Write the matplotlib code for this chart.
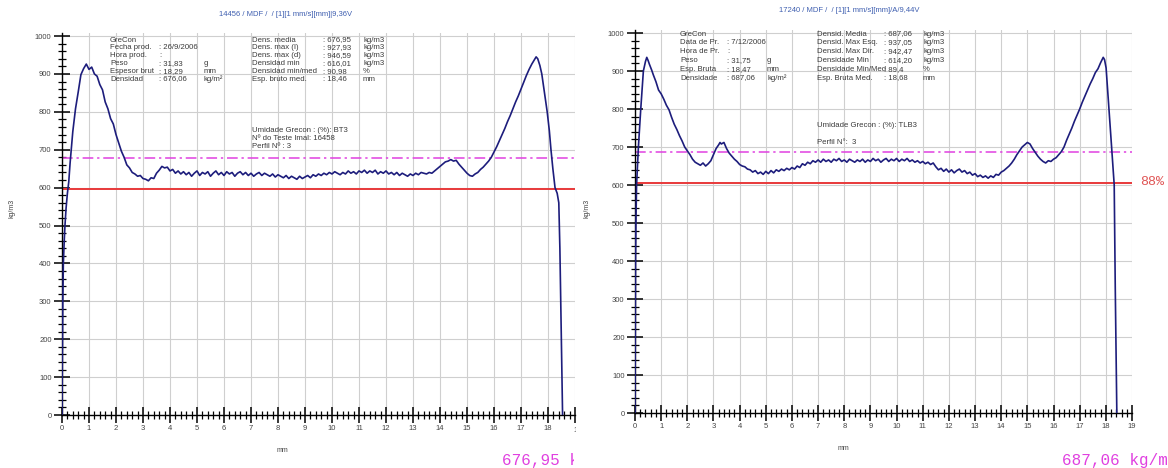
import matplotlib
matplotlib.use("Agg")
import matplotlib.pyplot as plt
from matplotlib.ticker import MultipleLocator, FixedLocator
from matplotlib.transforms import Bbox

plt.rcParams['font.family'] = ['Liberation Sans', 'DejaVu Sans']

# ---------------- data ----------------
left_x = [0.0, 0.01, 0.03, 0.05, 0.08, 0.11, 0.15, 0.2, 0.25, 0.3,
          0.4, 0.5, 0.6, 0.7, 0.8, 0.9, 1.0, 1.1, 1.2, 1.3, 1.4, 1.5, 1.6, 1.7, 1.8, 1.9,
          2.0, 2.1, 2.2, 2.3, 2.4, 2.5, 2.6, 2.7, 2.8, 2.9, 3.0, 3.1, 3.2, 3.3, 3.4, 3.5,
          3.6, 3.7, 3.8, 3.9, 4.0, 4.1, 4.2, 4.3, 4.4, 4.5, 4.6, 4.7, 4.8, 4.9, 5.0, 5.1,
          5.2, 5.3, 5.4, 5.5, 5.6, 5.7, 5.8, 5.9, 6.0, 6.1, 6.2, 6.3, 6.4, 6.5, 6.6, 6.7,
          6.8, 6.9, 7.0, 7.1, 7.2, 7.3, 7.4, 7.5, 7.6, 7.7, 7.8, 7.9, 8.0, 8.1, 8.2, 8.3,
          8.4, 8.5, 8.6, 8.7, 8.8, 8.9, 9.0, 9.1, 9.2, 9.3, 9.4, 9.5, 9.6, 9.7, 9.8, 9.9,
          10.0, 10.1, 10.2, 10.3, 10.4, 10.5, 10.6, 10.7, 10.8, 10.9, 11.0, 11.1, 11.2,
          11.3, 11.4, 11.5, 11.6, 11.7, 11.8, 11.9, 12.0, 12.1, 12.2, 12.3, 12.4, 12.5,
          12.6, 12.7, 12.8, 12.9, 13.0, 13.1, 13.2, 13.3, 13.4, 13.5, 13.6, 13.7, 13.8,
          13.9, 14.0, 14.1, 14.2, 14.3, 14.4, 14.5, 14.6, 14.7, 14.8, 14.9, 15.0, 15.1,
          15.2, 15.3, 15.4, 15.5, 15.6, 15.7, 15.8, 15.9, 16.0, 16.1, 16.2, 16.3, 16.4,
          16.5, 16.6, 16.7, 16.8, 16.9, 17.0, 17.1, 17.2, 17.3, 17.4, 17.5, 17.56, 17.62,
          17.7, 17.77, 17.87, 17.97, 18.05, 18.11, 18.18, 18.26, 18.34, 18.4, 18.44, 18.49, 18.54]
left_y = [0, 120, 300, 400, 455, 500, 545, 585, 615, 665,
          748, 808, 852, 898, 914, 926, 912, 918, 900, 894, 872, 858, 826, 808, 782, 768,
          740, 718, 696, 680, 660, 652, 640, 636, 630, 632, 624, 622, 618, 626, 624, 638,
          646, 656, 652, 654, 644, 648, 638, 644, 636, 642, 634, 640, 630, 638, 644, 632,
          640, 636, 642, 630, 638, 644, 634, 640, 632, 642, 636, 640, 630, 638, 642, 634,
          640, 632, 638, 630, 636, 640, 632, 638, 634, 630, 636, 628, 634, 630, 626, 632,
          624, 630, 626, 622, 630, 624, 628, 632, 626, 634, 630, 636, 632, 638, 634, 640,
          636, 642, 638, 634, 640, 636, 644, 638, 642, 636, 644, 640, 646,
          638, 644, 640, 646, 636, 642, 638, 644, 636, 640, 634, 640, 632,
          638, 634, 630, 636, 632, 638, 634, 640, 638, 636, 640, 638, 644,
          650, 656, 662, 668, 670, 674, 670, 672, 662, 654, 646, 638, 632,
          630, 636, 640, 648, 654, 662, 670, 680, 694, 708, 724, 740, 756,
          774, 790, 808, 826, 842, 860, 878, 896, 912, 926, 938, 945, 940,
          922, 900, 850, 800, 750, 700, 650, 600, 585, 560, 440, 220, 0]

right_x = [0.0, 0.01, 0.02, 0.04, 0.06, 0.13, 0.22, 0.32, 0.4, 0.45, 0.5, 0.55, 0.64, 0.7,
           0.8, 0.9, 1.0, 1.1, 1.2, 1.3, 1.4, 1.5, 1.6, 1.7, 1.8, 1.9, 2.0, 2.1, 2.2, 2.3,
           2.4, 2.5, 2.6, 2.7, 2.8, 2.9, 3.0, 3.1, 3.2, 3.25, 3.3, 3.4, 3.5, 3.6, 3.7, 3.8,
           3.9, 4.0, 4.1, 4.2, 4.3, 4.4, 4.5, 4.6, 4.7, 4.8, 4.9, 5.0, 5.1, 5.2, 5.3, 5.4,
           5.5, 5.6, 5.7, 5.8, 5.9, 6.0, 6.1, 6.2, 6.3, 6.4, 6.5, 6.6, 6.7, 6.8, 6.9, 7.0,
           7.1, 7.2, 7.3, 7.4, 7.5, 7.6, 7.7, 7.8, 7.9, 8.0, 8.1, 8.2, 8.3, 8.4, 8.5, 8.6,
           8.7, 8.8, 8.9, 9.0, 9.1, 9.2, 9.3, 9.4, 9.5, 9.6, 9.7, 9.8, 9.9, 10.0, 10.1,
           10.2, 10.3, 10.4, 10.5, 10.6, 10.7, 10.8, 10.9, 11.0, 11.1, 11.2, 11.3, 11.4,
           11.5, 11.6, 11.7, 11.8, 11.9, 12.0, 12.1, 12.2, 12.3, 12.4, 12.5, 12.6, 12.7,
           12.8, 12.9, 13.0, 13.1, 13.2, 13.3, 13.4, 13.5, 13.6, 13.7, 13.8, 13.9, 14.0,
           14.1, 14.2, 14.3, 14.4, 14.5, 14.6, 14.7, 14.8, 14.9, 15.0, 15.1, 15.2, 15.3,
           15.4, 15.5, 15.6, 15.7, 15.8, 15.9, 16.0, 16.1, 16.2, 16.3, 16.4, 16.5, 16.6,
           16.7, 16.8, 16.9, 17.0, 17.1, 17.2, 17.3, 17.4, 17.5, 17.6, 17.7, 17.8, 17.9,
           17.95, 18.01, 18.1, 18.22, 18.32, 18.36, 18.42]
right_y = [0, 200, 400, 520, 600, 700, 800, 900, 925, 936, 928, 918, 902, 890,
           872, 850, 840, 826, 810, 798, 778, 760, 746, 730, 716, 700, 690, 680, 668, 660,
           656, 652, 658, 650, 656, 664, 680, 696, 706, 712, 708, 712, 696, 684, 676, 668,
           662, 654, 650, 648, 642, 640, 634, 638, 630, 634, 628, 636, 630, 638, 632, 640,
           636, 642, 638, 644, 640, 646, 642, 650, 646, 656, 652, 660, 656, 664, 660, 666,
           660, 668, 662, 666, 660, 668, 664, 670, 662, 666, 660, 668, 664, 660, 666, 662,
           668, 660, 666, 662, 670, 664, 668, 660, 666, 670, 662, 668, 664, 670, 662,
           668, 664, 670, 662, 666, 660, 664, 658, 662, 656, 660, 654, 658,
           648, 640, 644, 636, 642, 634, 640, 632, 638, 642, 634, 638, 630,
           634, 626, 630, 622, 626, 620, 624, 618, 624, 620, 628, 626, 634,
           638, 644, 650, 658, 668, 680, 690, 700, 706, 712, 708, 696, 686,
           676, 668, 662, 658, 664, 662, 668, 672, 680, 688, 700, 718, 734,
           750, 768, 784, 800, 818, 834, 850, 866, 880, 896, 906, 922, 936,
           930, 908, 820, 700, 600, 330, 0]

left_mean = 676.95
right_mean = 687.06
limit_ratio = 0.88

left_title = "14456 / MDF /  / [1][1 mm/s][mm]|9,36V"
right_title = "17240 / MDF /  / [1][1 mm/s][mm]/A/9,44V"

left_col1_labels = ["GreCon", "Fecha prod.", "Hora prod.", "Peso", "Espesor brut", "Densidad"]
left_col1_values = ["", ": 26/9/2006", ":", ": 31,83", ": 18,29", ": 676,06"]
left_col1_units = ["", "", "", "g", "mm", "kg/m²"]
left_col2_labels = ["Dens. media", "Dens. max (I)", "Dens. max (d)", "Densidad min",
                    "Densidad min/med", "Esp. bruto med."]
left_col2_values = [": 676,95", ": 927,93", ": 946,59", ": 616,01", ": 90,98", ": 18,46"]
left_col2_units = ["kg/m3", "kg/m3", "kg/m3", "kg/m3", "%", "mm"]
left_extra = ["Umidade Grecon : (%): BT3", "Nº do Teste Imal: 16458", "Perfil Nº : 3"]

right_col1_labels = ["GreCon", "Data de Pr.", "Hora de Pr.", "Peso", "Esp. Bruta", "Densidade"]
right_col1_values = ["", ": 7/12/2006", ":", ": 31,75", ": 18,47", ": 687,06"]
right_col1_units = ["", "", "", "g", "mm", "kg/m²"]
right_col2_labels = ["Densid. Media", "Densid. Max Esq.", "Densid. Max Dir.", "Densidade Min",
                     "Densidade Min/Med", "Esp. Bruta Med."]
right_col2_values = [": 687,06", ": 937,05", ": 942,47", ": 614,20", ": 89,4", ": 18,68"]
right_col2_units = ["kg/m3", "kg/m3", "kg/m3", "kg/m3", "%", "mm"]
right_extra = ["Umidade Grecon : (%): TLB3", "Perfil N°:  3"]

left_mean_text = "676,95 kg/m"
right_mean_text = "687,06 kg/m"
limit_text = "88%"

# ---------------- figure ----------------
W, H = 1168, 468
fig = plt.figure(figsize=(W / 100, H / 100), dpi=100)
fig.patch.set_facecolor("white")


def fx(px):
    return px / W


def fy(py):
    return 1 - py / H


CURVE = "#1d1d7c"
RED = "#e8393a"
MAG = "#e040e0"
GRID = "#cfcfcf"
TXT = "#3a3a3a"
MONO = ["Liberation Mono", "DejaVu Sans Mono"]


def make_axes(rect, xmax_ticks, xs, ys, mean):
    ax = fig.add_axes(rect)
    ax.set_xlim(0, 19)
    ax.set_ylim(0, 1008)
    for s in ["top", "right"]:
        ax.spines[s].set_visible(False)
    for s in ["left", "bottom"]:
        ax.spines[s].set_color("black")
        ax.spines[s].set_linewidth(1.0)
    ax.xaxis.set_major_locator(FixedLocator(list(range(0, 20))))
    ax.xaxis.set_minor_locator(MultipleLocator(0.2))
    ax.yaxis.set_major_locator(MultipleLocator(100))
    ax.yaxis.set_minor_locator(MultipleLocator(20))
    ax.set_xticklabels([str(i) if i <= xmax_ticks else "" for i in range(0, 20)])
    ax.set_yticks(range(0, 1001, 100))
    ax.tick_params(which="major", direction="inout", length=11, width=1.1, color="black",
                   labelsize=5.5, labelcolor="#444444", pad=2)
    ax.tick_params(which="minor", direction="inout", length=6, width=0.9, color="black")
    ax.grid(which="major", color=GRID, lw=0.8, zorder=0)
    ax.set_axisbelow(True)
    ax.axhline(mean * limit_ratio, color=RED, lw=1.4, zorder=2)
    ax.axhline(mean, color=MAG, lw=1.1, dashes=(7, 2.5, 1.5, 2.5), zorder=2)
    ax.plot(xs, ys, color=CURVE, lw=1.2, zorder=3)
    return ax


# left panel: x0=62px, 19mm at 575px, y 0 at 415px, 1008 at 33px
axL = make_axes([fx(62), fy(415), fx(575) - fx(62), fy(33) - fy(415)], 18,
                left_x, left_y, left_mean)
# right panel: x0=635px, 19mm at 1132px, y 0 at 413px, 1008 at 30px
axR = make_axes([fx(635), fy(413), fx(1132) - fx(635), fy(30) - fy(413)], 19,
                right_x, right_y, right_mean)

fs = 5.6
# titles
fig.text(fx(286), fy(14), left_title, fontsize=5.5, color="#3f5fb0", ha="center", va="center")
fig.text(fx(849), fy(10), right_title, fontsize=5.5, color="#3f5fb0", ha="center", va="center")


def header(col_x, y0, dy, labels, values, units):
    for i, (l, v, u) in enumerate(zip(labels, values, units)):
        y = y0 + dy * i
        fig.text(fx(col_x[0]), fy(y), l, fontsize=fs, color=TXT, va="center")
        if v:
            fig.text(fx(col_x[1]), fy(y), v, fontsize=fs, color=TXT, va="center")
        if u:
            fig.text(fx(col_x[2]), fy(y), u, fontsize=fs, color=TXT, va="center")


header((110, 159, 204), 40, 7.8, left_col1_labels, left_col1_values, left_col1_units)
header((252, 323, 363), 40, 7.8, left_col2_labels, left_col2_values, left_col2_units)
for i, t in enumerate(left_extra):
    fig.text(fx(252), fy(130 + 8 * i), t, fontsize=fs, color=TXT, va="center")

header((680, 727, 767), 34, 8.8, right_col1_labels, right_col1_values, right_col1_units)
header((817, 884, 923), 34, 8.8, right_col2_labels, right_col2_values, right_col2_units)
fig.text(fx(817), fy(126), right_extra[0], fontsize=fs, color=TXT, va="center")
fig.text(fx(817), fy(142), right_extra[1], fontsize=fs, color=TXT, va="center")

# axis labels
fig.text(fx(12), fy(208), "kg/m3", fontsize=5, color="#444444", rotation=90, ha="center", va="center")
fig.text(fx(587), fy(208), "kg/m3", fontsize=5, color="#444444", rotation=90, ha="center", va="center")
fig.text(fx(282), fy(450), "mm", fontsize=5, color="#444444", ha="center", va="center")
fig.text(fx(843), fy(449), "mm", fontsize=5, color="#444444", ha="center", va="center")

# the left image is cut at about 576 px
clipL = Bbox.from_extents(0, 0, 576, H)
t19 = fig.text(fx(578), fy(427), "19", fontsize=5.5, color="#444444", ha="center", va="top")
t19.set_clip_box(clipL)
t19.set_clip_on(True)

# 88% label
fig.text(fx(1140), fy(182), limit_text, fontsize=9.5, color="#e05555", family=MONO, va="center")

# magenta mean labels at bottom
clipM = Bbox.from_extents(0, 0, 573.5, H)
tl = fig.text(fx(502), fy(460), left_mean_text, fontsize=11.5, color=MAG, family=MONO, va="center")
tl.set_clip_box(clipM)
tl.set_clip_on(True)
fig.text(fx(1062), fy(460), right_mean_text, fontsize=11.5, color=MAG, family=MONO, va="center")

fig.savefig("out.png", dpi=100, facecolor="white")
